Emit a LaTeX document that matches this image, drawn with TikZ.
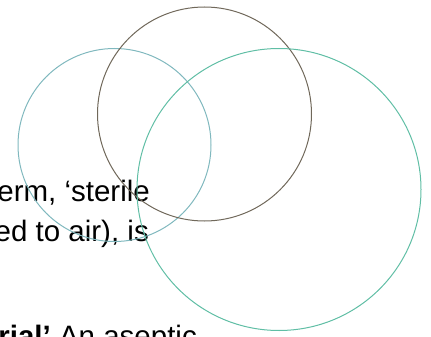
\documentclass[tikz,border=0pt]{standalone}
\usepackage{fontspec}
\setmainfont{Liberation Sans}
\definecolor{cblue}{RGB}{128,184,190}
\definecolor{cbrown}{RGB}{112,104,90}
\definecolor{cgreen}{RGB}{96,190,165}
\tikzset{ring/.style={draw, line width=1pt, fill=none},
  txt/.style={inner sep=0pt, font=\fontsize{29.5}{34}\selectfont, anchor=base east}}
\begin{document}
\begin{tikzpicture}[x=1pt,y=-1pt]
\useasboundingbox (0,0) rectangle (431,337);
\clip (0,0) rectangle (431,337);
\node[txt] (t1) at (150,201.5) {erm, ‘sterile};
\node[txt] (t2) at (149,241.5) {ed to air), is};
\node[txt] (t3) at (197,346) {\textbf{rial’} An aseptic};
\draw[ring, cblue] (114.5,145) circle [radius=96.5];
\draw[ring, cbrown] (204.5,114) circle [radius=107];
\draw[ring, cgreen] (279,189.5) ellipse [x radius=142, y radius=141];
\end{tikzpicture}
\end{document}
